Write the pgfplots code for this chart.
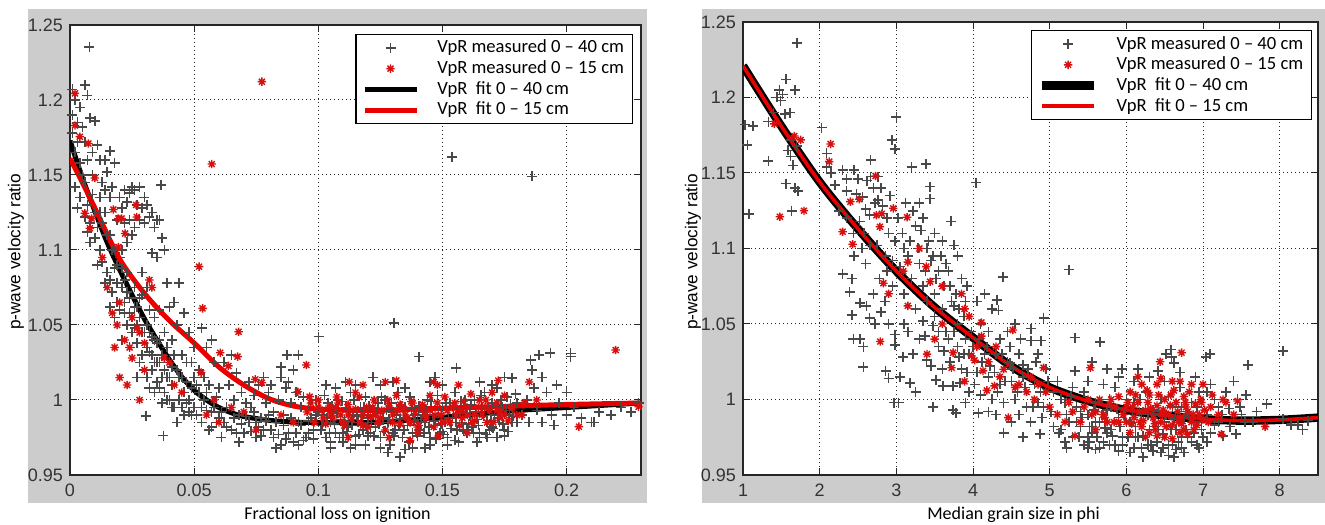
\documentclass[border=0pt]{standalone}
\usepackage{fontspec}
\setmainfont{Carlito}
\newfontfamily\tickfont{Liberation Sans}
\usepackage{pgfplots}
\pgfplotsset{compat=1.18}
\definecolor{figgrey}{RGB}{204,204,204}
\definecolor{markgrey}{RGB}{72,72,72}
\definecolor{starred}{RGB}{215,15,15}
\definecolor{fitred}{RGB}{235,0,0}

% matlab style asterisk: plus and cross together
\pgfdeclareplotmark{mstar}{%
  \pgfpathmoveto{\pgfqpoint{-\pgfplotmarksize}{0pt}}\pgfpathlineto{\pgfqpoint{\pgfplotmarksize}{0pt}}%
  \pgfpathmoveto{\pgfqpoint{0pt}{-\pgfplotmarksize}}\pgfpathlineto{\pgfqpoint{0pt}{\pgfplotmarksize}}%
  \pgfpathmoveto{\pgfqpoint{-.707\pgfplotmarksize}{-.707\pgfplotmarksize}}\pgfpathlineto{\pgfqpoint{.707\pgfplotmarksize}{.707\pgfplotmarksize}}%
  \pgfpathmoveto{\pgfqpoint{-.707\pgfplotmarksize}{.707\pgfplotmarksize}}\pgfpathlineto{\pgfqpoint{.707\pgfplotmarksize}{-.707\pgfplotmarksize}}%
  \pgfusepathqstroke}

\pgfplotsset{
  vpr/.style={
    scale only axis, anchor=south west,
    axis background/.style={fill=white},
    axis line style={black!85, line width=0.6pt},
    tick align=inside, major tick length=3.5pt,
    tick style={black!85, line width=0.5pt},
    grid=major,
    major grid style={black!85, line width=0.5pt, dash pattern=on 0.5pt off 1.5pt},
    tick label style={font=\tickfont\fontsize{9}{10}\selectfont, text=black!80},
    xticklabel style={yshift=-1pt},
    /pgf/number format/assume math mode=true,
    scaled ticks=false,
    ymin=0.95, ymax=1.25,
    ytick={0.95,1,1.05,1.1,1.15,1.2,1.25},
    yticklabels={0.95,1,1.05,1.1,1.15,1.2,1.25},
    legend cell align=left,
    legend style={font=\fontsize{9.3}{10.8}\selectfont, draw=black, line width=0.6pt,
      fill=white, anchor=north east, inner xsep=3pt, inner ysep=1.5pt,
      nodes={inner sep=1.2pt},
      /tikz/every odd column/.append style={column sep=8pt}},
    legend image code/.code={\draw[mark repeat=2,mark phase=2,##1] plot coordinates {(0pt,0pt) (13pt,0pt) (26pt,0pt)};},
  },
  meas40/.style={only marks, mark=+, mark size=2.5pt, color=markgrey, mark options={line width=0.8pt}},
  meas15/.style={only marks, mark=mstar, mark size=2.1pt, color=starred, mark options={line width=0.7pt}},
}

\begin{document}
\begin{tikzpicture}
\useasboundingbox (0,0) rectangle (662.5pt,262pt);
\fill[figgrey] (14pt,10.5pt) rectangle (323.5pt,257.5pt);
\fill[figgrey] (351pt,10.5pt) rectangle (662.5pt,257.5pt);

% left panel: loss on ignition
\begin{axis}[vpr, at={(35pt,24.5pt)}, width=285.5pt, height=225pt,
  xmin=0, xmax=0.23, xtick={0,0.05,0.1,0.15,0.2}, xticklabels={0,0.05,0.1,0.15,0.2},
  legend style={at={(0.986,0.98)}}]
\addplot[meas40] coordinates {
(0.001,1.19)(0.001,1.178)(0.002,1.2)(0.002,1.165)(0.003,1.185)(0.003,1.172)(0.004,1.158)(0.004,1.195)
(0.005,1.182)(0.005,1.15)(0.002,1.142)(0.004,1.135)(0.001,1.207)(0.006,1.21)(0.007,1.203)(0.003,1.128)
(0.006,1.172)(0.006,1.145)(0.007,1.16)(0.007,1.13)(0.008,1.188)(0.008,1.118)(0.009,1.15)(0.009,1.137)
(0.01,1.186)(0.01,1.125)(0.008,1.105)(0.006,1.122)(0.009,1.165)(0.01,1.108)(0.007,1.112)
(0.011,1.17)(0.011,1.115)(0.012,1.16)(0.012,1.1)(0.013,1.145)(0.013,1.092)(0.014,1.16)(0.014,1.125)
(0.015,1.152)(0.015,1.085)(0.011,1.09)(0.013,1.118)(0.012,1.135)(0.014,1.078)(0.016,1.166)(0.015,1.11)
(0.016,1.135)(0.016,1.08)(0.017,1.1)(0.017,1.072)(0.018,1.158)(0.018,1.088)(0.019,1.065)(0.019,1.12)
(0.02,1.095)(0.02,1.06)(0.017,1.142)(0.019,1.09)(0.018,1.055)(0.02,1.135)(0.016,1.062)
(0.021,1.128)(0.022,1.14)(0.023,1.132)(0.024,1.138)(0.025,1.142)(0.022,1.118)(0.023,1.105)(0.024,1.12)
(0.021,1.075)(0.022,1.058)(0.023,1.05)(0.024,1.068)(0.025,1.045)(0.021,1.04)(0.022,1.08)(0.024,1.035)
(0.025,1.055)(0.023,1.085)(0.021,1.1)(0.025,1.11)
(0.026,1.14)(0.027,1.13)(0.028,1.142)(0.029,1.128)(0.03,1.135)(0.026,1.115)(0.028,1.12)(0.03,1.118)
(0.026,1.048)(0.027,1.038)(0.028,1.055)(0.029,1.03)(0.03,1.045)(0.027,1.062)(0.029,1.07)(0.026,1.075)
(0.028,1.025)(0.03,1.02)(0.027,1.015)(0.029,1.085)
(0.031,1.13)(0.032,1.122)(0.033,1.125)(0.034,1.115)(0.035,1.12)(0.031,1.05)(0.032,1.032)(0.033,1.042)
(0.034,1.025)(0.035,1.038)(0.031,1.015)(0.032,1.008)(0.033,1.02)(0.034,1.005)(0.035,1.012)(0.032,1.06)
(0.034,1.055)(0.031,1.075)(0.033,1.098)(0.035,1.095)
(0.036,1.12)(0.037,1.108)(0.038,1.1)(0.036,1.04)(0.037,1.03)(0.038,1.02)(0.039,1.035)(0.04,1.015)
(0.036,1.008)(0.037,0.998)(0.039,1.0)(0.04,1.025)(0.038,1.045)(0.04,1.062)(0.039,1.078)(0.036,1.06)
(0.041,1.01)(0.042,0.995)(0.043,1.02)(0.044,1.0)(0.045,1.03)(0.046,0.99)(0.047,1.012)(0.048,1.0)
(0.049,1.025)(0.05,0.995)(0.041,1.04)(0.043,1.05)(0.045,1.015)(0.047,0.998)(0.049,1.008)(0.042,1.065)
(0.044,1.078)(0.046,1.058)(0.048,1.045)(0.05,1.035)(0.043,0.985)(0.046,1.005)(0.048,0.992)(0.05,1.015)(0.041,1.022)
(0.012,1.125)(0.014,1.14)(0.016,1.11)(0.018,1.1)(0.019,1.078)(0.021,1.088)(0.022,1.065)(0.023,1.072)
(0.024,1.058)(0.026,1.062)(0.027,1.05)(0.028,1.068)(0.029,1.045)(0.031,1.035)(0.032,1.045)(0.033,1.03)
(0.034,1.04)(0.035,1.025)(0.036,1.025)(0.037,1.015)(0.038,1.005)(0.039,1.015)(0.04,1.0)(0.041,0.995)
(0.042,1.03)(0.044,1.015)(0.045,0.995)(0.047,1.025)(0.049,0.99)(0.051,1.01)(0.053,0.995)(0.055,1.005)
(0.057,0.992)(0.059,0.985)
(0.051,0.99)(0.052,1.005)(0.053,0.985)(0.054,1.0)(0.055,0.993)(0.056,1.01)(0.057,0.982)(0.058,0.995)
(0.059,1.002)(0.06,0.988)(0.052,1.02)(0.054,1.015)(0.056,0.98)(0.058,1.025)(0.06,1.008)(0.055,1.035)
(0.053,1.048)(0.057,1.04)
(0.062,0.985)(0.063,0.995)(0.065,0.98)(0.066,1.0)(0.068,0.99)(0.07,0.978)(0.072,0.985)(0.073,0.995)
(0.075,0.975)(0.077,0.988)(0.078,0.98)(0.08,0.99)(0.064,1.01)(0.067,1.018)(0.069,1.005)(0.071,0.998)
(0.074,1.003)(0.076,1.01)(0.079,0.998)(0.062,1.025)(0.065,1.03)(0.072,1.012)(0.078,1.015)(0.061,0.975)
(0.068,0.972)(0.075,0.985)(0.08,1.005)
(0.061,0.992)(0.063,0.982)(0.066,0.988)(0.067,0.978)(0.069,0.984)(0.071,0.989)(0.073,0.979)(0.074,0.992)
(0.076,0.982)(0.077,0.976)(0.079,0.986)(0.081,0.98)(0.082,0.992)(0.084,0.977)(0.086,0.983)(0.087,0.974)
(0.089,0.988)(0.091,0.978)(0.093,0.983)(0.094,0.973)(0.096,0.986)(0.098,0.974)(0.099,0.99)
(0.082,0.975)(0.083,0.985)(0.085,0.97)(0.086,0.99)(0.088,0.978)(0.09,0.972)(0.092,0.985)(0.093,0.995)
(0.095,0.975)(0.097,0.988)(0.098,0.98)(0.1,0.992)(0.084,1.0)(0.087,1.008)(0.089,0.998)(0.091,1.005)
(0.094,1.002)(0.096,0.995)(0.099,1.0)(0.081,1.01)(0.085,1.015)(0.088,1.012)(0.092,0.97)(0.09,1.02)
(0.096,0.978)(0.083,0.968)
(0.101,0.98)(0.102,0.99)(0.103,0.975)(0.104,0.998)(0.105,0.985)(0.106,0.992)(0.107,0.978)(0.108,1.0)
(0.109,0.987)(0.11,0.972)(0.111,0.995)(0.112,0.982)(0.113,1.005)(0.114,0.99)(0.115,0.976)(0.116,0.985)
(0.117,0.995)(0.118,0.98)(0.119,1.002)(0.12,0.988)(0.103,1.01)(0.107,1.008)(0.111,1.012)(0.115,1.01)
(0.119,0.97)(0.105,0.968)(0.113,0.968)
(0.1005,0.995)(0.1015,0.983)(0.1025,1.003)(0.1035,0.988)(0.1045,0.978)(0.1055,0.996)(0.1065,0.984)(0.1075,0.991)
(0.1085,0.975)(0.1095,0.999)(0.1105,0.986)(0.1115,0.979)(0.1125,0.994)(0.1135,0.983)(0.1145,1.0)(0.1155,0.989)
(0.1165,0.977)(0.1175,0.99)(0.1185,0.995)(0.1195,0.982)
(0.121,0.978)(0.122,0.99)(0.123,0.982)(0.124,0.998)(0.125,0.975)(0.126,0.988)(0.127,1.0)(0.128,0.985)
(0.129,0.97)(0.13,0.992)(0.131,0.98)(0.132,1.005)(0.133,0.987)(0.134,0.975)(0.135,0.995)(0.136,0.983)
(0.137,1.002)(0.138,0.978)(0.139,0.99)(0.14,0.985)(0.125,1.01)(0.13,1.012)(0.135,1.008)(0.128,0.965)
(0.133,0.962)(0.138,0.968)(0.122,1.015)
(0.1205,0.996)(0.1215,0.985)(0.1225,0.976)(0.1235,0.991)(0.1245,0.984)(0.1255,1.002)(0.1265,0.979)(0.1275,0.993)
(0.1285,0.987)(0.1295,0.998)(0.1305,0.976)(0.1315,0.99)(0.1325,0.983)(0.1335,0.996)(0.1345,0.98)(0.1355,0.988)
(0.1365,0.972)(0.1375,0.994)(0.1385,0.986)(0.1395,0.978)
(0.141,0.98)(0.142,0.992)(0.143,0.985)(0.144,1.0)(0.145,0.975)(0.146,0.99)(0.147,0.983)(0.148,1.003)
(0.149,0.978)(0.15,0.995)(0.151,0.985)(0.152,0.975)(0.153,0.998)(0.154,0.988)(0.155,1.005)(0.156,0.98)
(0.157,0.992)(0.158,0.985)(0.159,1.0)(0.16,0.978)(0.145,1.012)(0.15,1.01)(0.143,0.968)(0.152,0.97)(0.147,1.015)
(0.1405,0.996)(0.1415,0.987)(0.1425,0.978)(0.1435,0.993)(0.1445,0.982)(0.1455,0.999)(0.1465,0.986)(0.1475,0.974)
(0.1485,0.991)(0.1495,0.984)(0.1505,0.977)(0.1515,0.998)(0.1525,0.988)(0.1535,0.981)(0.1545,0.994)(0.1555,0.985)
(0.1565,0.972)(0.1575,0.999)(0.1585,0.979)(0.1595,0.991)
(0.161,0.99)(0.162,0.982)(0.163,1.0)(0.164,0.987)(0.165,0.978)(0.166,0.995)(0.167,1.005)(0.168,0.985)
(0.169,0.98)(0.17,0.998)(0.171,0.99)(0.172,1.008)(0.173,0.985)(0.174,0.995)(0.175,0.98)(0.176,1.002)
(0.177,0.99)(0.178,0.985)(0.18,0.998)(0.165,1.012)(0.17,1.01)(0.175,1.015)(0.164,0.972)(0.168,0.975)(0.172,0.975)
(0.1605,0.984)(0.1615,0.997)(0.1625,0.978)(0.1635,0.992)(0.1645,0.983)(0.1655,1.003)(0.1665,0.989)(0.1675,0.977)
(0.1685,0.994)(0.1695,0.986)(0.1705,0.981)(0.1715,0.996)(0.1725,0.988)(0.1735,1.0)(0.1745,0.984)(0.1755,0.993)
(0.1765,0.979)(0.1775,0.997)(0.1785,0.989)(0.1795,1.004)
(0.105,0.972)(0.115,0.97)(0.125,0.968)(0.135,0.967)(0.145,0.97)(0.155,0.973)(0.165,0.975)(0.175,0.976)
(0.11,0.978)(0.12,0.976)(0.13,0.978)(0.14,0.976)(0.15,0.979)(0.16,0.98)(0.17,0.982)(0.18,0.985)
(0.182,0.99)(0.184,1.0)(0.185,0.985)(0.187,1.008)(0.188,0.993)(0.19,0.985)(0.192,1.005)(0.194,0.99)
(0.195,0.983)(0.197,0.998)(0.2,0.99)(0.203,0.995)(0.206,0.988)(0.21,0.985)(0.213,0.992)(0.218,0.99)
(0.222,0.995)(0.226,0.992)(0.229,0.998)(0.186,1.02)(0.19,1.015)(0.196,1.01)(0.2,1.005)
(0.0078,1.2355)(0.1539,1.162)(0.186,1.149)(0.0366,1.1433)(0.1304,1.0515)(0.1405,1.0289)(0.1556,1.0215)
(0.178,1.0145)(0.1855,1.0267)(0.1888,1.03)(0.1935,1.0315)(0.2016,1.0289)(0.2016,1.031)(0.211,0.985)
(0.1001,1.0422)(0.0874,1.03)(0.0305,0.9893)(0.0376,0.9762)(0.092,1.03)(0.085,1.022)
};
\addplot[meas15] coordinates {
(0.002,1.2044)(0.002,1.183)(0.004,1.1755)(0.0074,1.171)(0.01,1.148)(0.006,1.1245)(0.0087,1.121)
(0.008,1.1145)(0.0175,1.127)(0.0195,1.121)(0.0208,1.121)(0.0266,1.13)(0.0269,1.122)(0.0222,1.111)
(0.0195,1.102)(0.013,1.095)(0.015,1.075)(0.017,1.058)(0.019,1.05)(0.02,1.065)(0.022,1.04)(0.024,1.035)
(0.025,1.055)(0.027,1.048)(0.028,1.045)(0.03,1.038)(0.025,1.028)(0.018,1.035)(0.02,1.015)(0.023,1.01)
(0.028,1.0)(0.03,1.02)(0.032,1.08)(0.033,1.075)(0.038,1.028)(0.04,1.025)(0.042,1.01)(0.045,1.005)
(0.0773,1.2122)(0.0571,1.1573)(0.052,1.0889)(0.0534,1.0611)(0.0679,1.0455)(0.0605,1.0315)(0.0675,1.0289)
(0.0638,1.0227)(0.0746,1.0138)(0.0773,1.0115)(0.0528,1.0182)(0.0918,1.0055)(0.0965,1.0022)(0.0952,1.0233)
(0.055,0.99)(0.058,1.0)(0.06,0.985)(0.065,0.995)(0.07,0.992)(0.075,0.98)(0.085,0.99)(0.09,0.985)
(0.1,0.995)(0.105,0.99)(0.108,0.998)(0.11,0.985)(0.113,0.993)(0.115,1.005)(0.118,0.99)(0.12,0.982)
(0.122,0.995)(0.125,0.988)(0.128,1.0)(0.13,0.985)(0.132,0.993)(0.135,0.99)(0.138,0.998)(0.14,0.982)
(0.142,0.995)(0.145,1.003)(0.147,0.99)(0.15,0.985)(0.152,0.993)(0.155,0.998)(0.158,0.988)(0.16,0.995)
(0.163,0.99)(0.165,1.0)(0.168,0.985)(0.17,1.005)(0.172,0.993)(0.175,0.99)(0.185,1.012)(0.188,1.0)
(0.205,0.9822)(0.2198,1.0333)(0.229,0.9955)(0.118,1.01)(0.127,1.012)(0.148,1.01)(0.112,0.975)(0.14,0.978)(0.16,0.978)
(0.102,0.988)(0.107,0.995)(0.112,0.99)(0.117,0.985)(0.123,0.99)(0.133,0.997)(0.137,0.985)(0.143,0.99)
(0.153,0.985)(0.157,0.993)(0.162,0.985)(0.167,0.995)(0.173,0.988)(0.178,0.995)(0.182,0.99)
(0.0955,0.992)(0.097,0.998)(0.0985,0.985)(0.1,1.0)(0.1015,0.993)(0.103,0.984)(0.1045,0.996)(0.106,0.988)
(0.1075,1.002)(0.109,0.99)(0.1105,0.983)(0.112,0.997)(0.1135,0.987)(0.115,0.994)(0.1165,1.002)(0.118,0.983)
(0.1195,0.995)(0.121,0.989)(0.1225,1.0)(0.124,0.985)(0.1255,0.993)(0.127,0.98)(0.1285,0.996)(0.13,0.99)
(0.1315,1.003)(0.133,0.984)(0.1345,0.994)(0.136,0.988)(0.1375,0.999)(0.139,0.991)(0.1405,0.983)(0.142,0.997)
(0.1435,0.988)(0.145,0.993)(0.1465,0.982)(0.148,0.998)(0.1495,0.99)(0.151,1.002)(0.1525,0.986)(0.154,0.995)
(0.1555,0.99)(0.157,0.983)(0.1585,0.999)(0.16,0.99)(0.1615,1.004)(0.163,0.986)(0.1645,0.995)(0.166,0.99)
(0.1675,1.0)(0.169,0.993)(0.1705,0.985)(0.172,0.998)(0.1735,0.992)(0.175,1.003)(0.1765,0.986)(0.178,0.995)
(0.18,0.99)(0.183,0.998)(0.1125,1.012)(0.1315,1.013)(0.1465,1.012)(0.1565,1.01)(0.1725,1.013)(0.1285,0.975)
(0.1485,0.976)(0.137,0.973)
};
\addplot[black, line width=2.5pt, smooth] coordinates {
(0,1.173)(0.005,1.148)(0.01,1.126)(0.015,1.105)(0.02,1.087)(0.025,1.07)(0.03,1.054)(0.035,1.04)
(0.04,1.027)(0.045,1.0155)(0.05,1.0065)(0.055,1.0)(0.06,0.995)(0.065,0.9915)(0.07,0.989)(0.08,0.9865)
(0.09,0.9853)(0.1,0.985)(0.12,0.985)(0.14,0.987)(0.16,0.99)(0.18,0.993)(0.2,0.995)(0.23,0.998)
};
\addplot[fitred, line width=2.5pt, smooth] coordinates {
(0,1.161)(0.005,1.145)(0.01,1.128)(0.02,1.094)(0.03,1.071)(0.04,1.053)(0.05,1.038)(0.06,1.022)
(0.07,1.01)(0.08,1.001)(0.09,0.996)(0.1,0.994)(0.12,0.993)(0.14,0.994)(0.16,0.995)(0.18,0.996)
(0.2,0.997)(0.23,0.998)
};
\legend{VpR measured 0 -- 40 cm, VpR measured 0 -- 15 cm, VpR\ \ fit 0 -- 40 cm, VpR\ \ fit 0 -- 15 cm}
\end{axis}

% right panel: median grain size
\begin{axis}[vpr, at={(371.5pt,24.5pt)}, width=287.5pt, height=226.5pt,
  xmin=1, xmax=8.5, xtick={1,2,...,8},
  legend style={at={(0.99,0.982)}}]
\addplot[meas40] coordinates {
(1.026,1.182)(1.134,1.181)(1.33,1.184)(1.056,1.1685)(1.33,1.158)(1.078,1.123)(1.708,1.236)(1.561,1.212)
(1.474,1.205)(1.517,1.202)(1.678,1.205)(1.447,1.20)(1.49,1.198)(1.548,1.189)(1.613,1.19)(1.59,1.165)
(1.62,1.161)(1.56,1.143)(1.68,1.14)(1.72,1.138)(1.635,1.125)(1.63,1.172)(1.7,1.168)(1.65,1.155)
(2.026,1.18)(2.09,1.163)(1.4,1.19)
(2.09,1.154)(2.15,1.15)(2.3,1.152)(2.35,1.146)(2.45,1.152)(2.5,1.146)(2.2,1.142)(2.35,1.138)
(2.48,1.136)(2.56,1.134)(2.6,1.126)(2.52,1.118)(2.44,1.11)(2.7,1.14)(2.76,1.132)(2.82,1.128)
(2.65,1.122)(2.58,1.11)(2.66,1.102)(2.75,1.102)(2.86,1.095)(2.95,1.092)(3.05,1.088)(2.9,1.11)
(2.98,1.105)(3.1,1.1)(2.665,1.1586)(2.665,1.1476)(2.764,1.1476)(2.94,1.172)(2.98,1.166)(3.0,1.187)
(2.3,1.083)(2.42,1.08)(2.39,1.071)(2.525,1.064)(2.61,1.062)(2.42,1.056)(2.65,1.054)(2.72,1.05)
(2.44,1.04)(2.525,1.04)(2.57,1.035)(2.57,1.0215)(2.86,1.019)(2.9,1.014)(2.98,1.043)(2.98,1.036)
(2.78,1.08)(2.88,1.085)(2.7,1.07)(2.85,1.065)(2.95,1.075)(2.8,1.058)(2.9,1.05)(2.6,1.09)
(2.55,1.1)(2.45,1.095)(2.35,1.12)(2.25,1.125)
(2.62,1.145)(2.72,1.13)(2.8,1.14)(2.88,1.12)(2.92,1.135)(3.02,1.12)(3.08,1.11)(3.12,1.13)
(3.18,1.105)(3.22,1.125)(3.28,1.1)(3.32,1.112)(3.38,1.085)(3.42,1.105)(3.48,1.095)(3.52,1.08)
(3.58,1.095)(3.62,1.075)(3.68,1.085)(3.72,1.065)(3.78,1.07)(3.82,1.06)(3.88,1.055)(3.92,1.075)
(3.2,1.154)(3.39,1.156)(3.44,1.141)(3.44,1.133)(3.71,1.118)(3.75,1.102)(4.04,1.1436)(3.3,1.13)
(3.35,1.12)(3.25,1.115)(3.5,1.11)(3.6,1.105)(3.4,1.1)(3.15,1.095)(3.3,1.09)(3.45,1.092)
(3.55,1.085)(3.65,1.09)(3.8,1.095)(3.2,1.08)(3.35,1.075)(3.5,1.07)(3.7,1.075)(3.85,1.08)
(3.1,1.07)(3.25,1.06)(3.4,1.065)(3.6,1.06)(3.75,1.062)(3.9,1.065)(3.05,1.015)(3.18,1.011)
(3.09,1.028)(3.22,1.03)(3.395,1.026)(2.97,0.998)(3.03,0.998)(3.35,1.052)(3.48,1.049)(3.37,1.042)
(3.48,0.995)(3.52,1.013)(3.61,1.009)(3.74,0.993)(3.78,0.991)(3.74,1.009)(3.83,1.011)(3.55,1.035)
(3.65,1.045)(3.8,1.05)(3.9,1.04)(3.95,1.03)(3.7,1.025)(3.6,1.02)(3.85,1.02)(3.95,1.005)
(3.9,0.998)(3.8,1.035)(3.3,1.04)(3.15,1.045)(3.1,1.05)(3.5,1.055)(3.45,1.022)(3.25,1.005)
(3.55,1.045)(3.62,1.032)(3.68,1.04)(3.75,1.045)(3.82,1.028)(3.88,1.03)(3.92,1.018)(3.98,1.045)
(4.02,1.01)(4.08,1.04)(4.12,1.025)(4.18,1.035)(4.22,1.022)(4.28,1.018)(4.32,1.005)(4.38,1.03)
(4.42,1.012)(4.48,1.035)(4.52,1.02)(4.58,1.005)(4.62,1.04)(4.68,1.008)(4.72,1.02)(4.78,0.995)
(4.82,1.025)(4.88,1.005)(4.92,0.995)(4.98,1.012)
(4.07,0.991)(4.2,0.992)(4.39,1.081)(4.31,1.066)(4.33,1.059)(4.05,1.065)(4.15,1.07)(4.25,1.06)
(4.1,1.05)(4.2,1.045)(4.35,1.04)(4.45,1.045)(4.55,1.05)(4.0,1.035)(4.15,1.03)(4.3,1.03)
(4.45,1.025)(4.6,1.03)(4.05,1.018)(4.2,1.015)(4.35,1.01)(4.5,1.012)(4.65,1.015)(4.8,1.01)
(4.1,1.003)(4.25,1.0)(4.4,0.998)(4.55,1.0)(4.7,0.995)(4.85,0.998)(4.3,0.99)(4.5,0.985)
(4.6,0.99)(4.75,0.985)(4.9,0.988)(4.87,0.977)(4.92,1.054)(4.76,1.047)(4.89,1.039)(4.76,1.039)
(4.85,1.03)(4.65,1.023)(4.48,1.024)(4.95,1.02)(4.4,0.978)(4.65,0.975)
(5.25,1.086)(5.33,1.041)(5.66,1.038)(5.33,1.019)(5.94,1.02)(5.05,1.005)(5.1,0.99)(5.15,0.98)
(5.2,0.998)(5.25,0.985)(5.3,0.975)(5.35,0.995)(5.4,0.982)(5.45,1.005)(5.5,0.99)(5.55,0.978)
(5.6,0.998)(5.65,0.985)(5.7,0.972)(5.75,0.993)(5.8,0.98)(5.85,1.008)(5.9,0.988)(5.95,0.975)
(5.1,1.012)(5.3,1.008)(5.5,1.012)(5.7,1.01)(5.9,1.015)(5.2,0.972)(5.45,0.97)(5.65,0.968)
(5.85,0.97)(5.15,1.0)(5.4,0.992)(5.6,0.985)(5.8,0.995)(5.55,1.025)(5.75,1.02)(5.05,0.982)
(5.02,0.992)(5.12,0.978)(5.22,0.99)(5.28,1.002)(5.38,0.975)(5.42,0.988)(5.52,0.982)(5.58,0.993)
(5.62,0.975)(5.68,0.99)(5.72,0.981)(5.78,1.0)(5.82,0.976)(5.88,0.994)(5.92,0.982)(5.98,0.99)
(6.02,0.975)(6.08,0.992)(6.12,0.982)(6.18,1.0)(6.22,0.976)(6.28,0.99)(6.32,0.97)(6.38,0.982)
(6.42,0.992)(6.48,0.977)(6.52,0.99)(6.58,0.98)(6.62,0.987)(6.68,0.972)(6.72,0.995)(6.78,0.98)
(6.82,0.99)(6.88,0.978)(6.92,0.995)(6.98,0.98)
(5.52,0.972)(5.6,0.967)(5.78,0.97)(5.95,0.97)(6.05,0.965)(6.22,0.962)(6.28,0.97)(6.48,0.968)
(6.62,0.962)(6.75,0.965)(6.95,0.968)(7.05,0.972)(5.35,0.985)(5.55,0.982)(5.75,0.978)(6.12,0.975)
(6.42,0.98)(6.72,0.975)(6.98,0.985)(5.5,0.975)
(5.22,0.968)(5.5,0.968)(5.9,0.966)(6.1,0.968)(6.35,0.966)(6.55,0.963)(6.65,0.967)(6.92,0.97)
(7.0,0.975)(7.15,0.983)(7.2,0.995)(7.35,0.982)(7.4,1.012)(7.48,0.995)(7.55,0.985)(7.7,0.992)
(6.59,1.028)(6.41,1.019)(6.72,0.968)(6.05,0.985)(6.1,0.998)(6.15,0.975)(6.2,0.99)(6.25,1.005)
(6.3,0.98)(6.35,0.993)(6.4,0.972)(6.45,1.0)(6.5,0.985)(6.55,0.97)(6.6,0.995)(6.65,0.98)
(6.7,1.008)(6.75,0.988)(6.8,0.975)(6.85,0.998)(6.9,0.985)(6.95,1.005)(6.1,1.012)(6.3,1.015)
(6.5,1.012)(6.7,1.018)(6.9,1.015)(6.2,0.968)(6.45,0.965)(6.6,0.97)(6.85,0.972)(6.0,1.0)
(6.35,0.99)(6.55,1.002)(6.78,0.992)(6.15,1.02)(6.62,1.024)(6.52,1.03)(6.58,1.033)
(7.04,1.028)(7.09,1.03)(7.59,1.023)(8.04,1.032)(7.05,0.99)(7.1,0.978)(7.15,1.0)(7.2,0.985)
(7.26,0.976)(7.34,0.994)(7.43,0.977)(7.45,1.0)(7.56,1.003)(7.83,0.997)(8.04,0.987)(8.15,0.983)
(8.3,0.98)(8.24,0.983)(8.37,0.986)(7.1,1.01)(7.3,1.005)(7.25,0.99)(7.5,0.99)(7.65,0.985)(7.05,1.005)
};
\addplot[meas15] coordinates {
(1.41,1.1825)(1.669,1.1745)(1.752,1.1719)(1.48,1.121)(1.795,1.125)(2.143,1.1692)(2.125,1.1575)(2.73,1.148)
(2.517,1.1326)(2.4,1.131)(2.74,1.122)(2.81,1.123)(2.96,1.1266)(3.14,1.1207)(2.3,1.1111)(2.43,1.1028)
(2.786,1.1144)(2.79,1.0384)(2.83,1.077)(2.9,1.07)(3.09,1.085)(3.15,1.091)(3.39,1.088)(3.44,1.078)
(3.15,1.062)(3.74,1.031)(3.72,1.021)(3.89,1.012)(3.89,1.06)(3.95,1.055)(4.11,1.051)(4.11,1.042)
(3.98,1.029)(4.02,1.026)(4.13,1.019)(4.18,1.006)(4.28,1.009)(4.52,1.046)(4.46,0.988)(4.92,1.021)
(5.53,1.021)(6.44,1.025)(6.72,1.031)(7.26,1.0)(7.45,0.999)(7.24,0.977)(7.81,0.982)(5.33,0.976)
(5.7,0.99)(5.8,1.0)(5.9,0.985)(6.0,0.995)(6.05,1.005)(6.1,0.988)(6.15,0.998)(6.2,0.982)
(6.25,0.993)(6.3,1.003)(6.35,0.988)(6.4,0.996)(6.45,0.985)(6.5,1.0)(6.55,0.99)(6.6,0.983)
(6.65,0.998)(6.7,0.988)(6.75,1.002)(6.8,0.992)(6.85,0.985)(6.9,0.997)(6.95,0.99)(7.0,0.987)
(6.3,0.978)(6.5,0.975)(6.7,0.978)(6.4,1.01)(6.6,1.012)(6.85,1.01)(6.05,0.978)(5.6,0.98)
(5.45,0.995)(5.2,0.985)(5.0,0.995)(4.8,1.0)(4.6,1.01)(4.4,1.02)(4.3,1.035)(3.6,1.05)
(3.5,1.04)(3.4,1.03)(7.1,0.995)(7.4,0.99)(6.2,1.01)(6.75,0.98)
(3.3,1.1)(3.6,1.075)(3.85,1.07)(4.05,1.035)(4.2,1.025)(4.35,1.015)(4.55,1.008)(4.7,1.005)
(4.85,1.01)(5.1,0.99)(5.3,0.992)(5.55,0.99)(5.75,0.985)(5.85,0.995)(6.08,0.995)(6.18,0.985)
(6.28,0.998)(6.38,0.98)(6.48,0.993)(6.58,1.003)(6.68,0.985)(6.78,0.995)(6.88,0.98)(6.98,0.998)
(5.6,0.992)(5.65,1.0)(5.72,0.988)(5.78,0.997)(5.84,0.985)(5.9,1.002)(5.96,0.99)(6.02,0.998)
(6.07,0.984)(6.12,1.003)(6.17,0.992)(6.22,0.986)(6.27,1.006)(6.32,0.994)(6.37,0.984)(6.42,1.003)
(6.47,0.99)(6.52,0.982)(6.57,0.996)(6.62,1.006)(6.67,0.992)(6.72,0.984)(6.77,0.998)(6.82,1.005)
(6.87,0.99)(6.92,0.983)(6.97,1.0)(7.02,0.993)(7.07,0.985)(7.12,1.003)(7.2,0.99)(7.3,0.998)
(6.25,0.975)(6.4,0.976)(6.6,0.974)(6.8,0.977)(6.0,0.985)(5.5,1.0)(5.4,0.985)(5.25,0.998)
(4.95,1.005)(4.75,1.015)(6.15,1.015)(6.45,1.014)(6.7,1.012)(7.0,1.01)
};
\addplot[black, line width=4.2pt, smooth] coordinates {
(1,1.221)(1.5,1.181)(2,1.144)(2.5,1.113)(3,1.085)(3.5,1.061)(4,1.041)(4.5,1.022)
(5,1.008)(5.5,0.999)(6,0.993)(6.5,0.9895)(7,0.987)(7.5,0.986)(8,0.9865)(8.5,0.988)
};
\addplot[fitred, line width=1.8pt, smooth] coordinates {
(1,1.221)(1.5,1.181)(2,1.144)(2.5,1.113)(3,1.085)(3.5,1.061)(4,1.041)(4.5,1.022)
(5,1.008)(5.5,0.999)(6,0.993)(6.5,0.9895)(7,0.987)(7.5,0.986)(8,0.9865)(8.5,0.988)
};
\legend{VpR measured 0 -- 40 cm, VpR measured 0 -- 15 cm, VpR\ \ fit 0 -- 40 cm, VpR\ \ fit 0 -- 15 cm}
\end{axis}

\node[font=\fontsize{9}{10}\selectfont, anchor=base] at (168.75pt,2.5pt) {Fractional loss on ignition};
\node[font=\fontsize{9}{10}\selectfont, anchor=base] at (506.75pt,2.5pt) {Median grain size in phi};
\node[font=\tickfont\fontsize{8.6}{10}\selectfont, rotate=90] at (8pt,136pt) {p-wave velocity ratio};
\node[font=\tickfont\fontsize{8.6}{10}\selectfont, rotate=90] at (346.5pt,136pt) {p-wave velocity ratio};
\end{tikzpicture}
\end{document}
